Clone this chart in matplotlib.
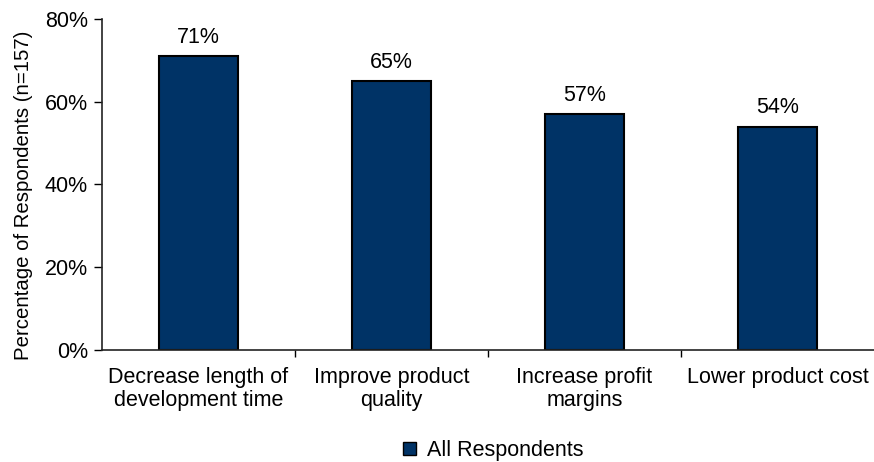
import matplotlib
matplotlib.use("Agg")
import matplotlib.pyplot as plt
from matplotlib.patches import Patch
from matplotlib.ticker import FixedLocator, PercentFormatter

categories = ["Decrease length of\ndevelopment time", "Improve product\nquality",
              "Increase profit\nmargins", "Lower product cost"]
values = [71, 65, 57, 54]
yticks = [0, 20, 40, 60, 80]
series_name = "All Respondents"
ylabel = "Percentage of Respondents (n=157)"

plt.rcParams["font.family"] = ["Liberation Sans", "DejaVu Sans"]
bar_color = "#003366"
fs = 15.5

fig = plt.figure(figsize=(8.74, 4.62), dpi=100)
ax = fig.add_axes([0.1167, 0.2424, 0.8833, 0.7165])

x = list(range(len(categories)))
bars = ax.bar(x, values, width=0.41, color=bar_color, edgecolor="black", linewidth=1.5)
for xi, v in zip(x, values):
    ax.annotate(f"{v}%", (xi, v), xytext=(0, 6), textcoords="offset points",
                ha="center", va="bottom", fontsize=fs)

ax.set_xlim(-0.5, len(categories) - 0.5)
ax.set_ylim(0, 80)
ax.set_yticks(yticks)
ax.yaxis.set_major_formatter(PercentFormatter(decimals=0))
ax.set_xticks(x)
ax.set_xticklabels(categories, fontsize=fs, linespacing=1.15)
ax.xaxis.set_minor_locator(FixedLocator([i + 0.5 for i in range(len(categories) - 1)]))
ax.tick_params(axis="x", which="major", length=0, pad=12)
ax.tick_params(axis="x", which="minor", length=5, width=1, direction="out")
ax.tick_params(axis="y", labelsize=fs, length=6, width=1, pad=4)
ax.set_ylabel(ylabel, fontsize=14.7)
ax.yaxis.set_label_coords(-0.089, 0.467)

for side in ("top", "right"):
    ax.spines[side].set_visible(False)
for side in ("left", "bottom"):
    ax.spines[side].set_linewidth(1.2)
    ax.spines[side].set_color("#222222")

handle = Patch(facecolor=bar_color, edgecolor="black", linewidth=1)
fig.legend([handle], [series_name], loc="lower center", bbox_to_anchor=(0.564, 0.0),
           frameon=False, fontsize=fs, handlelength=0.6, handleheight=0.6,
           handletextpad=0.5, borderpad=0.05, borderaxespad=0.0)

fig.savefig("out.png", dpi=100)
